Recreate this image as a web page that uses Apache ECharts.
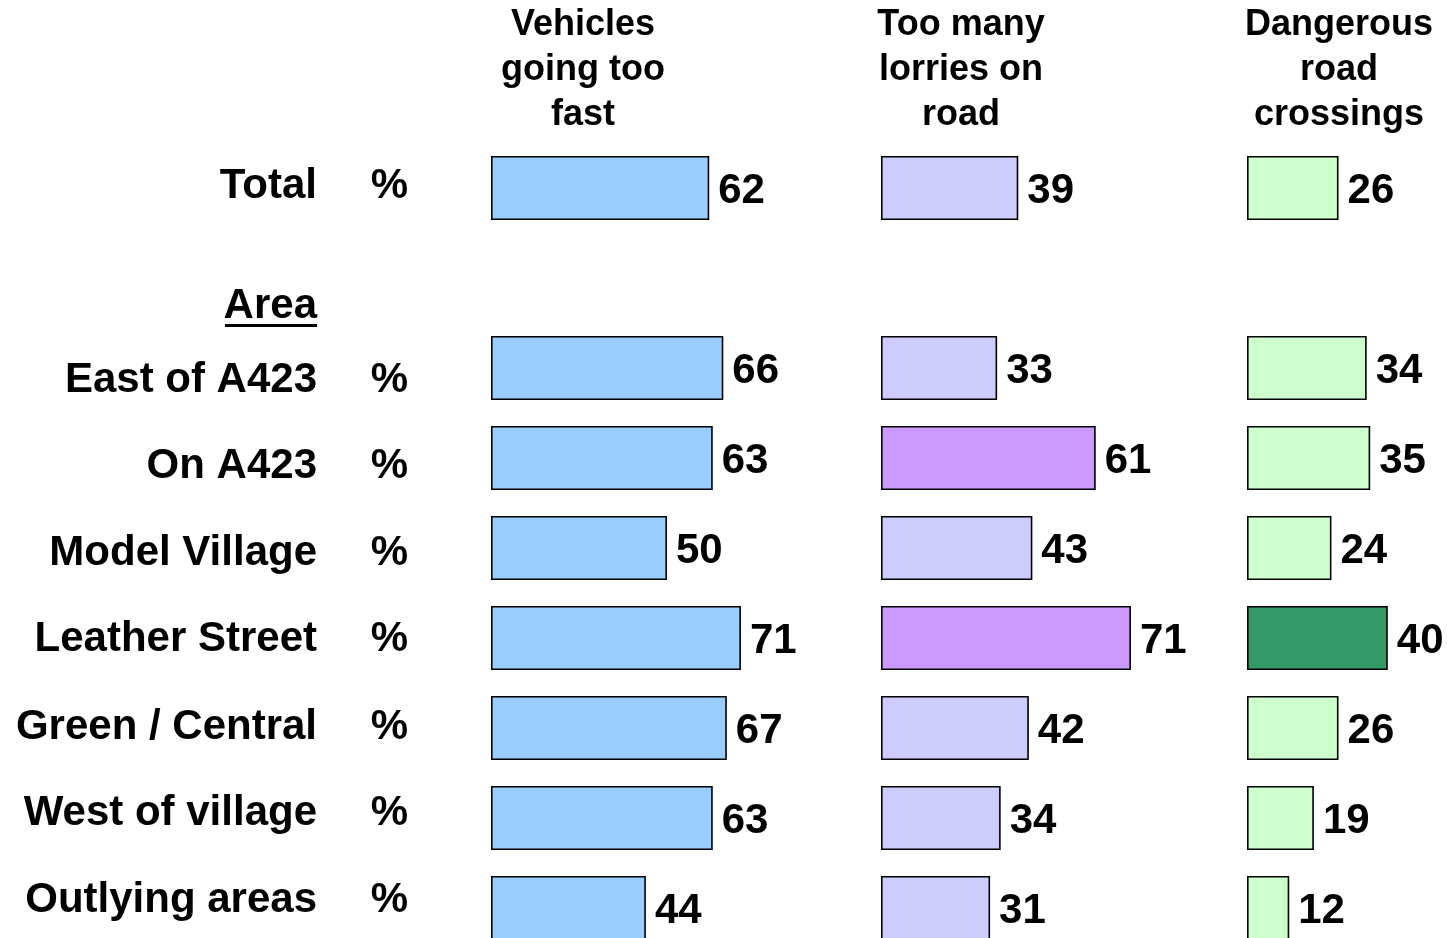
<!DOCTYPE html>
<html>
<head>
<meta charset="utf-8">
<script src="https://cdn.jsdelivr.net/npm/echarts@6/dist/echarts.min.js"></script>
<style>
html,body{margin:0;padding:0;background:#fff;}
#chart{width:1447px;height:938px;}
</style>
</head>
<body>
<div id="chart"></div>
<script>
var categories = ['Total', '', 'East of A423', 'On A423', 'Model Village', 'Leather Street', 'Green / Central', 'West of village', 'Outlying areas'];
var headers = ['Vehicles\ngoing too\nfast', 'Too many\nlorries on\nroad', 'Dangerous\nroad\ncrossings'];
var speeding = [62, null, 66, 63, 50, 71, 67, 63, 44];
var lorries = [39, null, 33, 61, 43, 71, 42, 34, 31];
var crossings = [26, null, 34, 35, 24, 40, 26, 19, 12];
var lorriesHighlight = ['On A423', 'Leather Street'];
var crossingsHighlight = ['Leather Street'];
var groupLabel = 'Area';
var unitLabel = '%';

// style: vertical nudge (px) of each row's side labels, as in the original slide
var rowLabelNudge = [-2, 0, 12, 8, 5, 1, -1, -5, -8];

var FONT = 'Arial, "Liberation Sans", sans-serif';
var baseColors = ['#99CCFF', '#CCCCFF', '#CCFFCC'];
var hiColors = ['#99CCFF', '#CC99FF', '#339966'];
var highlights = [[], lorriesHighlight, crossingsHighlight];
var values = [speeding, lorries, crossings];
var lefts = [491, 881, 1247];
var centers = [583, 961, 1339];
var SCALE_W = 352;
var TOP = 143, H = 810;

var rich = {};
rowLabelNudge.forEach(function (d, k) {
  rich['r' + k] = {
    fontFamily: FONT, fontWeight: 'bold', fontSize: 42, color: '#000',
    padding: d >= 0 ? [2 * d, 0, 0, 0] : [0, 0, -2 * d, 0]
  };
});
function sideLabel(text, idx) {
  return text ? '{r' + idx + '|' + text + '}' : '';
}

var grids = [], xAxes = [], yAxes = [], series = [], graphics = [];
for (var i = 0; i < 3; i++) {
  grids.push({left: lefts[i], top: TOP, width: SCALE_W, height: H, outerBoundsMode: 'none', containLabel: false});
  xAxes.push({type: 'value', gridIndex: i, min: 0, max: 100, show: false});
  yAxes.push({
    type: 'category', gridIndex: i, data: categories, inverse: true,
    axisLine: {show: false}, axisTick: {show: false}, splitLine: {show: false},
    axisLabel: i === 0 ? {
      show: true, margin: 174, color: '#000', fontFamily: FONT, fontWeight: 'bold', fontSize: 42,
      formatter: function (v, idx) { return sideLabel(v, idx); }, rich: rich
    } : {show: false}
  });
  (function (idx) {
    series.push({
      type: 'bar', xAxisIndex: idx, yAxisIndex: idx, barWidth: 64,
      data: values[idx].map(function (v, k) {
        var hi = highlights[idx].indexOf(categories[k]) >= 0;
        return {value: v, itemStyle: {color: hi ? hiColors[idx] : baseColors[idx]}};
      }),
      itemStyle: {borderColor: '#000', borderWidth: 1.6},
      label: {
        show: true, position: 'right', distance: 9, offset: [0, 3], color: '#000',
        fontFamily: FONT, fontWeight: 'bold', fontSize: 42
      },
      emphasis: {disabled: true},
      animation: false
    });
  })(i);
  graphics.push({
    type: 'text', x: centers[i], y: 3,
    style: {
      text: headers[i], align: 'center', verticalAlign: 'top',
      fill: '#000', font: 'bold 36px ' + FONT, lineHeight: 45
    }
  });
}
// "%" column axis in first grid
yAxes.push({
  type: 'category', gridIndex: 0, data: categories, inverse: true, position: 'left',
  axisLine: {show: false}, axisTick: {show: false}, splitLine: {show: false},
  axisLabel: {
    show: true, margin: 83, color: '#000', fontFamily: FONT, fontWeight: 'bold', fontSize: 42,
    formatter: function (v, idx) { return v ? sideLabel(unitLabel, idx) : ''; }, rich: rich
  }
});
// group header "Area" (underlined)
graphics.push({
  type: 'text', x: 317, y: 306,
  style: {text: groupLabel, fill: '#000', font: 'bold 42px ' + FONT, align: 'right', verticalAlign: 'middle'}
});
graphics.push({
  type: 'rect', left: 225, top: 324, shape: {width: 92, height: 3}, style: {fill: '#000'}
});

var chart = echarts.init(document.getElementById('chart'), null, {renderer: 'canvas'});
chart.setOption({
  backgroundColor: '#fff',
  animation: false,
  grid: grids,
  xAxis: xAxes,
  yAxis: yAxes,
  series: series,
  graphic: graphics
});
</script>
</body>
</html>
